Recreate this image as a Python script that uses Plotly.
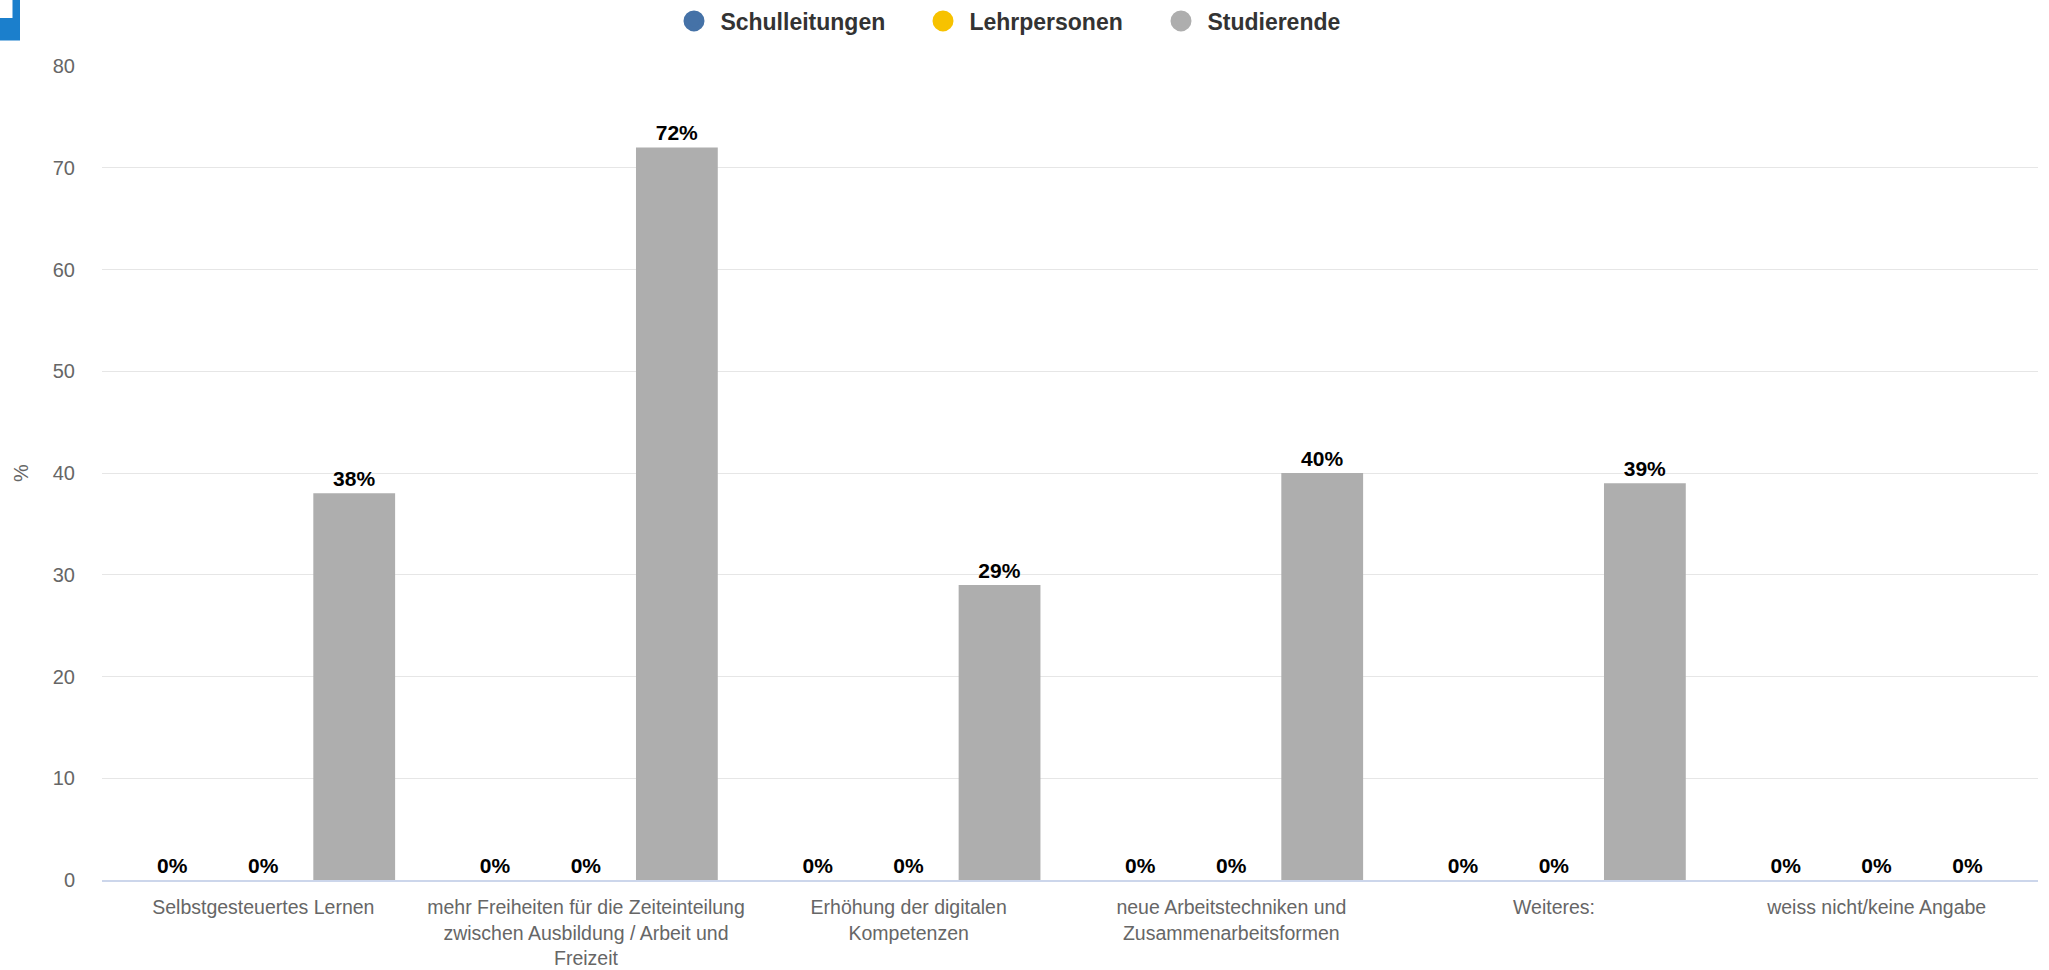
import plotly.graph_objects as go

categories = [
    "Selbstgesteuertes Lernen",
    "mehr Freiheiten für die Zeiteinteilung<br>zwischen Ausbildung / Arbeit und<br>Freizeit",
    "Erhöhung der digitalen<br>Kompetenzen",
    "neue Arbeitstechniken und<br>Zusammenarbeitsformen",
    "Weiteres:",
    "weiss nicht/keine Angabe",
]
series_names = ["Schulleitungen", "Lehrpersonen", "Studierende"]
schulleitungen = [0, 0, 0, 0, 0, 0]
lehrpersonen = [0, 0, 0, 0, 0, 0]
studierende = [38, 72, 29, 40, 39, 0]
y_ticks = [0, 10, 20, 30, 40, 50, 60, 70, 80]

colors = ["#4572A7", "#F7C200", "#AEAEAE"]
values = [schulleitungen, lehrpersonen, studierende]
legend_widths = [204, 193, 172]

W, H = 2049, 970
ML, MR, MT, MB = 102, 11, 66, 90
PW, PH = W - ML - MR, H - MT - MB

def px_x(p):
    return (p - ML) / PW

def px_y(p):
    return (H - MB - p) / PH

FONT = "Liberation Sans, Arial, sans-serif"

fig = go.Figure()
for name, vals, col, lw in zip(series_names, values, colors, legend_widths):
    fig.add_trace(go.Bar(
        x=categories, y=vals, name=name, marker=dict(color=col, line=dict(width=0)),
        texttemplate="%{y}%", textposition="outside", cliponaxis=False,
        textfont=dict(family=FONT, size=21, color="#000000", weight="bold"),
        showlegend=False,
    ))
    fig.add_trace(go.Scatter(
        x=[None], y=[None], mode="markers", name="\u00a0" + name,
        marker=dict(color=col, size=16, symbol="circle", line=dict(color=col, width=5)),
        showlegend=True, legendwidth=lw,
    ))

# decorative icon fragment at top-left
path = "M {x1},{y0} L {x2},{y0} L {x2},{y3} L {x0},{y3} L {x0},{y2} L {x1},{y2} Z".format(
    x0=px_x(0), x1=px_x(12.5), x2=px_x(20), y0=px_y(0), y2=px_y(18), y3=px_y(40.5))

fig.update_layout(
    width=W, height=H,
    margin=dict(l=ML, r=MR, t=MT, b=MB, autoexpand=False),
    paper_bgcolor="white", plot_bgcolor="white",
    barmode="group", bargap=0.155, bargroupgap=0.1,
    font=dict(family=FONT, color="#666666", size=20),
    legend=dict(
        orientation="h", x=px_x(674), xanchor="left", y=px_y(21), yanchor="middle",
        font=dict(family=FONT, size=23, color="#333333", weight="bold"),
        itemsizing="trace",
    ),
    shapes=[dict(type="path", path=path, xref="paper", yref="paper",
                 fillcolor="#1B7FCC", line=dict(width=0), layer="above")],
    xaxis=dict(
        showgrid=False, showline=True, linecolor="#ccd6eb", linewidth=1.5,
        tickfont=dict(family=FONT, size=19.5, color="#666666"),
        ticks="", zeroline=False, ticklabelstandoff=9,
    ),
    yaxis=dict(
        range=[0, 80], tickvals=y_ticks, showgrid=True, gridcolor="#e6e6e6", gridwidth=1,
        zeroline=False, showline=False, ticks="", ticklabelstandoff=26,
        tickfont=dict(family=FONT, size=20, color="#666666"),
        title=dict(text="%", standoff=18, font=dict(family=FONT, size=20, color="#666666")),
    ),
)

fig.write_html(
    "out.html",
    config={"displayModeBar": False},
    post_script="document.body.style.margin='0';document.body.style.overflow='hidden';",
)
